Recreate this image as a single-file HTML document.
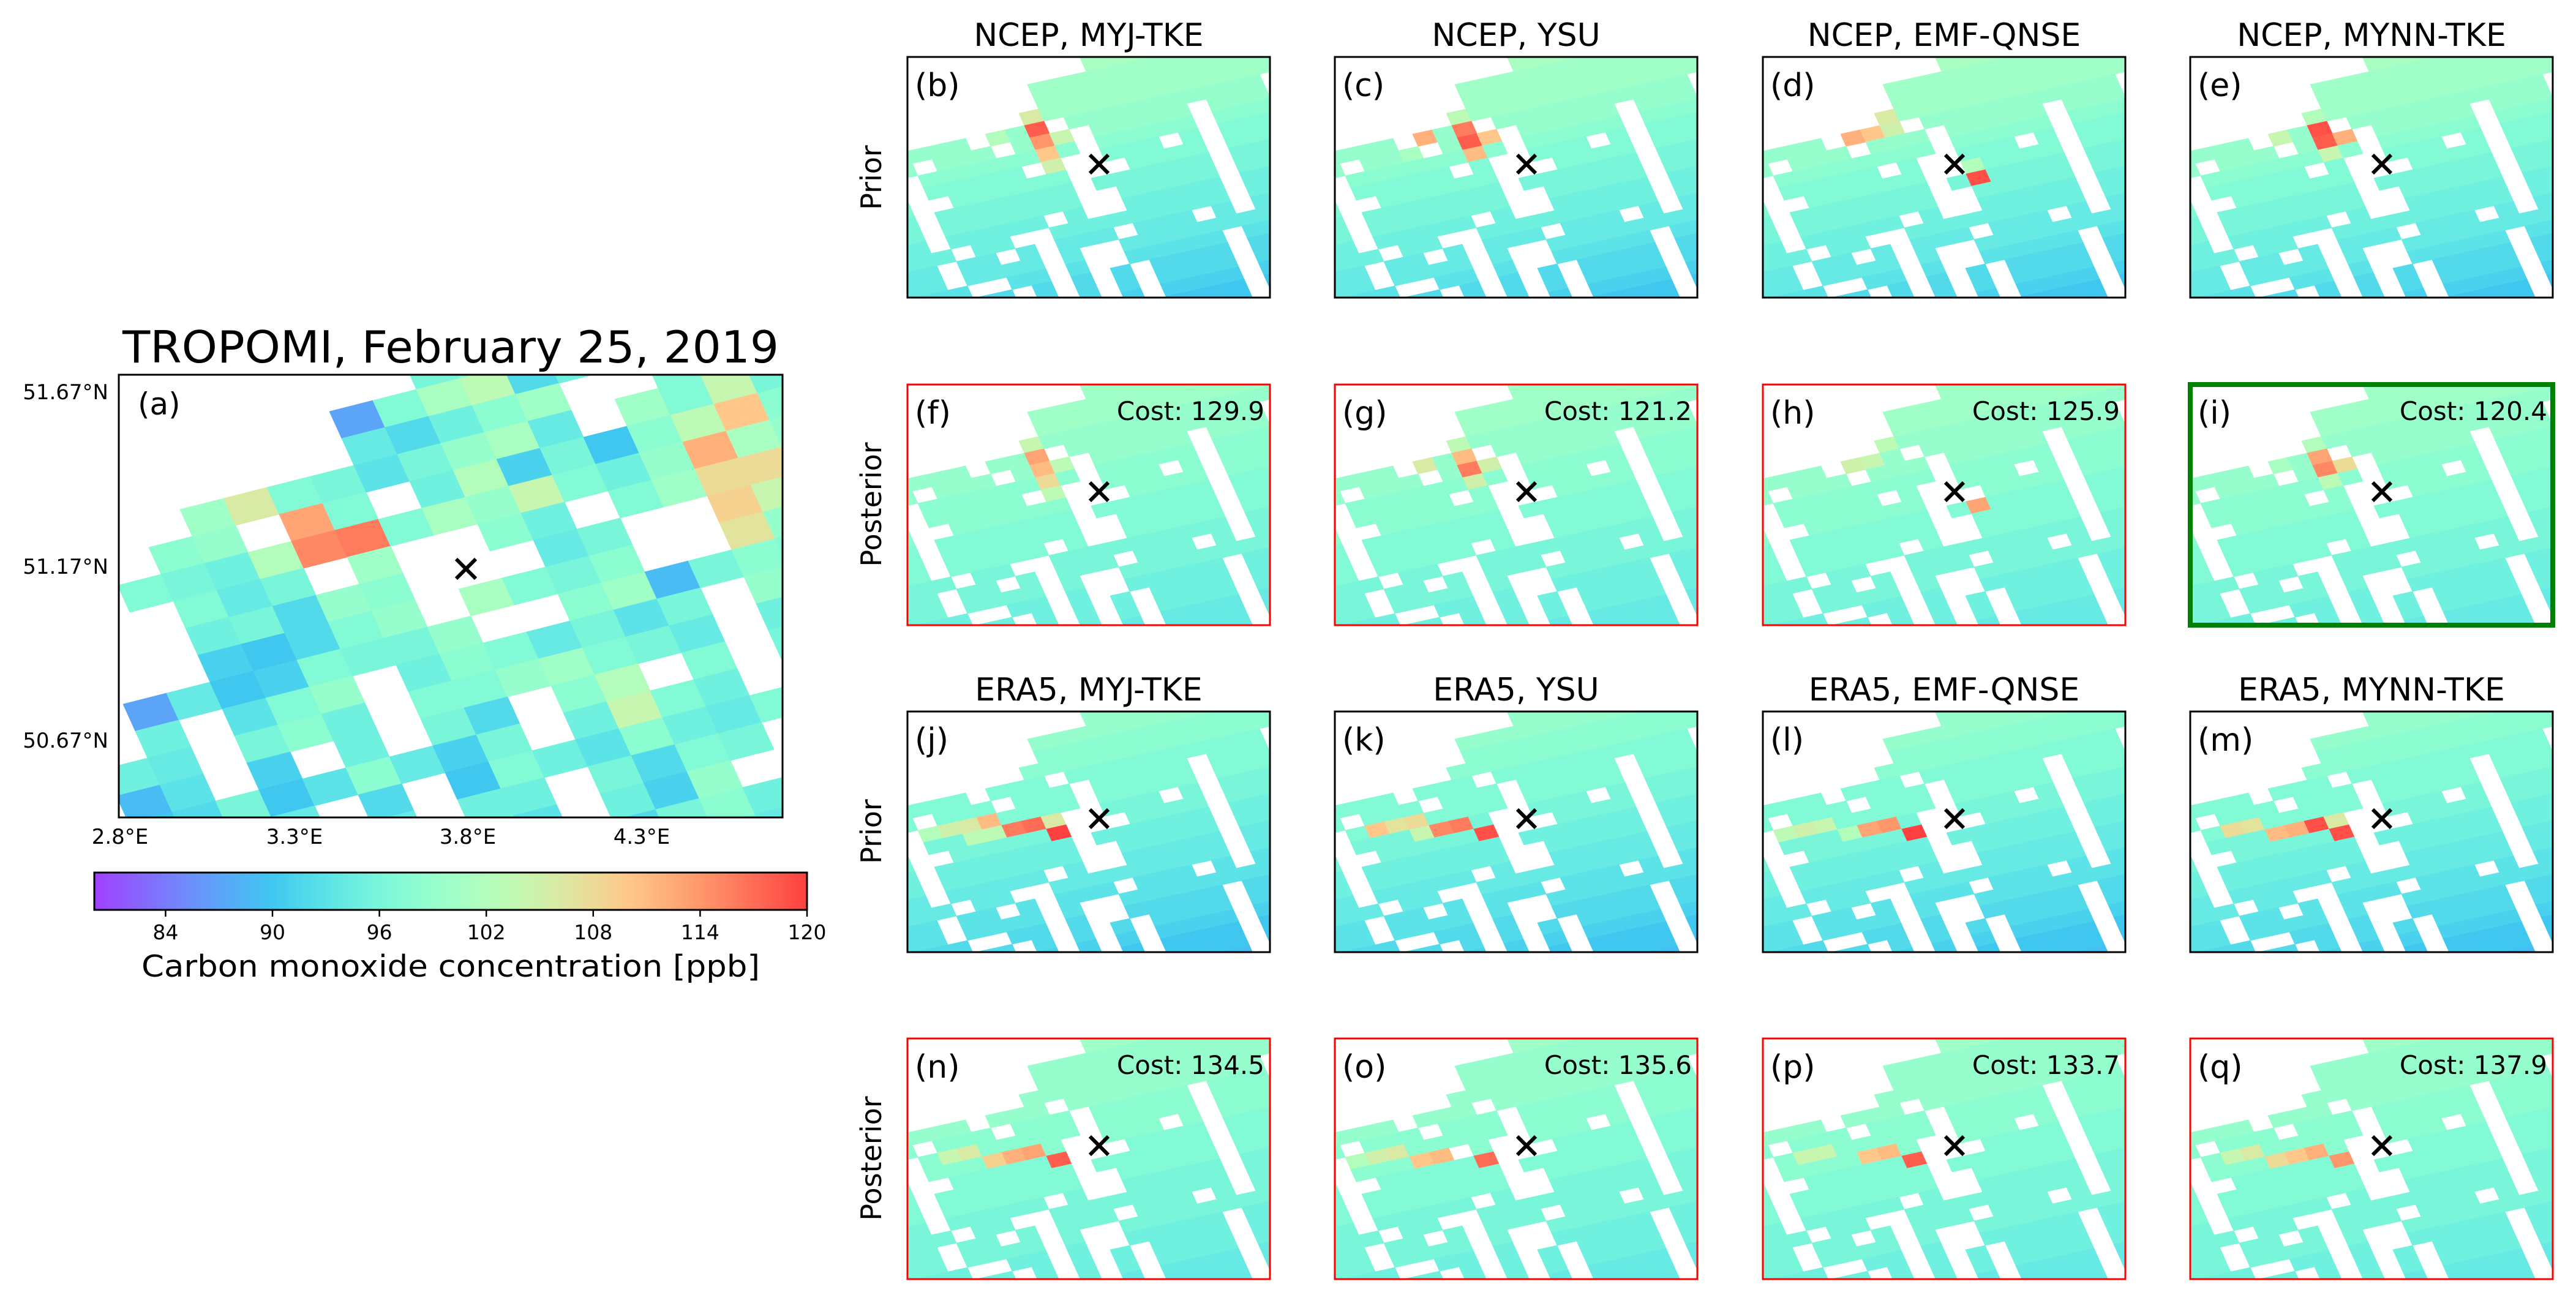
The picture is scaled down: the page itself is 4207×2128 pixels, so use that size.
<!DOCTYPE html>
<html>
<head>
<meta charset="utf-8">
<style>
html,body{margin:0;padding:0;background:#fff;width:4207px;height:2128px;overflow:hidden;}
svg{display:block;font-family:"DejaVu Sans","Liberation Sans",sans-serif;}
</style>
</head>
<body>
<svg id="fig" xmlns="http://www.w3.org/2000/svg" width="4207" height="2128" viewBox="0 0 4207 2128" overflow="hidden">
<defs id="defs"></defs>
<rect x="0" y="0" width="4207" height="2128" fill="#fff"/>
<g id="panelA"></g>
<g id="small"></g>
<g id="cbar"></g>

<text x="736" y="592" font-size="72" text-anchor="middle" textLength="1072" lengthAdjust="spacingAndGlyphs">TROPOMI, February 25, 2019</text>
<text x="225" y="677" font-size="50">(a)</text>
<text x="177" y="652" font-size="34" text-anchor="end">51.67°N</text>
<text x="177" y="937" font-size="34" text-anchor="end">51.17°N</text>
<text x="177" y="1221" font-size="34" text-anchor="end">50.67°N</text>
<text x="196" y="1378" font-size="34" text-anchor="middle">2.8°E</text>
<text x="481" y="1378" font-size="34" text-anchor="middle">3.3°E</text>
<text x="764" y="1378" font-size="34" text-anchor="middle">3.8°E</text>
<text x="1048" y="1378" font-size="34" text-anchor="middle">4.3°E</text>
<text x="736" y="1595" font-size="49" text-anchor="middle" textLength="1010" lengthAdjust="spacingAndGlyphs">Carbon monoxide concentration [ppb]</text>

<text x="1778" y="75" font-size="52" text-anchor="middle">NCEP, MYJ-TKE</text>
<text x="2476" y="75" font-size="52" text-anchor="middle">NCEP, YSU</text>
<text x="3175" y="75" font-size="52" text-anchor="middle">NCEP, EMF-QNSE</text>
<text x="3873" y="75" font-size="52" text-anchor="middle">NCEP, MYNN-TKE</text>
<text x="1778" y="1144" font-size="52" text-anchor="middle">ERA5, MYJ-TKE</text>
<text x="2476" y="1144" font-size="52" text-anchor="middle">ERA5, YSU</text>
<text x="3175" y="1144" font-size="52" text-anchor="middle">ERA5, EMF-QNSE</text>
<text x="3873" y="1144" font-size="52" text-anchor="middle">ERA5, MYNN-TKE</text>

<text transform="translate(1439,290) rotate(-90)" font-size="46" text-anchor="middle">Prior</text>
<text transform="translate(1439,824) rotate(-90)" font-size="46" text-anchor="middle">Posterior</text>
<text transform="translate(1439,1358) rotate(-90)" font-size="46" text-anchor="middle">Prior</text>
<text transform="translate(1439,1892) rotate(-90)" font-size="46" text-anchor="middle">Posterior</text>
</svg>

<script>
// ---------- data ----------
const cbarTicks = [84, 90, 96, 102, 108, 114, 120];
const vMin = 80;
const vMax = 120;

// Panel (a) TROPOMI grid: rows r=0..20, columns c=-5..14 (0 = no data)
const tropomiRows = [
[0,0,0,0,0,0,0,0,0,0,0,0,0,0,0,0,0,0,0,0],
[0,0,0,0,0,0,0,0,0,0,0,0,0,0,0,0,0,0,0,0],
[0,0,0,0,0,0,0,0,0,0,0,96,98,101,97,99,104,100,106,0],
[0,0,0,0,0,0,0,0,0,87,97,101,103,92,95,98,96,105,99,0],
[0,0,0,0,0,0,0,0,0,94,92,95,98,100,0,0,97,102,107,0],
[0,0,0,0,0,100,106,97,96,93,96,99,101,94,0,100,97,104,96,0],
[0,0,0,0,98,99,0,113,97,0,95,102,91,96,90,98,103,110,98,96],
[0,0,0,97,96,95,102,115,116,97,101,99,104,97,95,99,112,101,99,97],
[0,0,0,0,97,94,96,0,100,0,0,98,95,0,97,100,108,108,96,98],
[0,0,0,0,95,96,92,99,98,0,0,0,94,96,0,0,109,104,100,97],
[0,0,0,0,91,90,92,97,99,0,101,97,96,98,0,0,107,99,102,0],
[0,0,87,94,90,91,97,96,96,99,0,0,98,100,89,96,98,97,103,0],
[0,0,95,0,93,97,99,0,95,98,97,94,96,93,96,0,99,102,101,0],
[0,95,94,0,96,98,95,0,97,97,99,100,97,96,94,0,95,100,100,0],
[0,89,93,0,91,0,95,0,96,92,0,98,102,0,97,0,96,97,0,0],
[0,90,92,96,90,93,98,94,91,96,0,95,104,97,95,0,96,0,0,0],
[0,88,90,91,94,0,92,0,90,97,95,93,98,95,94,97,0,0,0,0],
[89,87,91,93,91,96,94,0,95,95,0,96,92,97,96,0,0,0,0,0],
[88,90,92,94,90,92,89,93,96,93,0,95,91,99,0,0,0,0,0,0],
[90,93,94,91,95,96,93,95,94,90,0,92,96,98,95,93,0,0,0,0],
[91,92,95,93,94,92,95,92,97,94,97,93,95,96,94,92,0,0,0,0]
];
const tropomiColStart = -5;

// Small panels: shared data mask, rows r=0..24, columns c=-6..16
const smallMask = [
"..............#########",
"..............#########",
"..............#########",
"..............#########",
"...........############",
"...........############",
"..........#############",
"#######.###.##########.",
"####.###.###.#####.###.",
"###.########.#####.###.",
"###.#####.#..###.#.###.",
"###..######...####.###.",
"###.#######.######.###.",
"###.#######..#####.##..",
"###.#####.#..#####.##..",
"####.##..#########.##..",
"###.##.#.###.###.#.##..",
"###.####.#..#########..",
"####..##.#..#####.##...",
"######.#.#.#.####.##...",
"########.#.#.####.##...",
"##########.#.####.##...",
"############.####.#....",
"############.####.#....",
"############.####.#...."
];
const smallColStart = -6;

// row-wise background concentration (ppb), r=0..24
const levelsNcepPrior = [101,101,101,101,100,100,100,99,99,98,97,97,96,96,95,95,94,94,93,92,92,91,90,90,89];
const levelsEra5Prior = [100,100,99,99,99,98,98,97,97,97,96,96,95,95,94,94,93,93,92,92,91,90,90,89,88];
const levelsNcepPost  = [101,101,100,100,100,100,99,99,99,98,98,98,97,97,97,96,96,96,95,95,95,94,94,94,93];
const levelsEra5Post  = [100,100,100,100,99,99,99,99,98,98,98,97,97,97,96,96,96,96,95,95,95,94,94,94,94];

// hot spots [c, r, ppb]
const hotB = [[4,6,106],[4,7,118],[4,8,114],[4,9,110],[4,10,105],[5,8,104],[2,7,102]];
const hotC = [[4,6,103],[4,7,116],[4,8,118],[4,9,111],[5,8,110],[2,7,112],[1,8,101]];
const hotD = [[2,7,112],[3,7,110],[4,6,106],[4,7,105],[7,12,119],[7,11,102]];
const hotE = [[4,6,102],[4,7,119],[4,8,118],[5,8,112],[4,9,104],[2,7,104]];
const hotF = [[4,6,104],[4,7,113],[4,8,111],[4,9,108],[4,10,103],[5,8,103]];
const hotG = [[4,6,103],[4,7,111],[4,8,116],[4,9,105],[5,8,105],[2,7,106]];
const hotH = [[2,7,105],[3,7,104],[4,6,103],[7,12,113]];
const hotI = [[4,6,102],[4,7,113],[4,8,115],[5,8,108],[4,9,103],[2,7,101]];
const hotJ = [[-2,9,102],[-1,9,105],[0,9,106],[1,9,111],[0,10,103],[1,10,103],[2,10,116],[3,10,117],[4,10,106],[4,11,120]];
const hotK = [[-1,9,110],[0,9,107],[1,9,108],[1,10,104],[2,10,115],[3,10,116],[4,11,119]];
const hotL = [[-2,9,103],[-1,9,105],[0,9,104],[1,10,102],[2,10,113],[3,10,114],[4,11,120]];
const hotM = [[-1,9,108],[0,9,107],[1,10,111],[2,10,112],[3,10,119],[4,11,119],[4,10,106]];
const hotN = [[-1,9,104],[0,9,106],[1,10,109],[2,10,112],[3,10,113],[4,11,118]];
const hotO = [[-2,9,102],[-1,9,105],[0,9,106],[1,10,110],[2,10,111],[4,11,117]];
const hotP = [[-1,9,104],[0,9,104],[2,10,110],[3,10,111],[4,11,118]];
const hotQ = [[-1,9,104],[0,9,106],[1,10,108],[2,10,110],[3,10,112],[4,11,114]];

const panelLetters = ["b","c","d","e","f","g","h","i","j","k","l","m","n","o","p","q"];
const costs = [null,null,null,null,129.9,121.2,125.9,120.4,null,null,null,null,134.5,135.6,133.7,137.9];
const bestPanel = "i";

// ---------- helpers ----------
const NS = "http://www.w3.org/2000/svg";
function cmap(v){
  let x = (v - vMin) / (vMax - vMin);
  x = Math.max(0, Math.min(1, x));
  let r = Math.min(1, Math.abs(2*x - 0.5));
  let g = Math.sin(Math.PI * x);
  let b = Math.cos(Math.PI * x / 2);
  const a = 0.75;
  const f = t => Math.round((a*Math.max(0,Math.min(1,t)) + (1-a)) * 255);
  return "rgb(" + f(r) + "," + f(g) + "," + f(b) + ")";
}
function mk(tag, attrs, parent){
  const e = document.createElementNS(NS, tag);
  for (const k in attrs) e.setAttribute(k, attrs[k]);
  parent.appendChild(e);
  return e;
}
function cellCorners(ox, oy, cv, rv, c, r){
  const p = (cc, rr) => [ox + cv[0]*cc + rv[0]*rr, oy + cv[1]*cc + rv[1]*rr];
  return [p(c,r), p(c+1,r), p(c+1,r+1), p(c,r+1)];
}
function overlaps(pts, bx, by, bw, bh){
  const xs = pts.map(q => q[0]), ys = pts.map(q => q[1]);
  return Math.max(...xs) > bx && Math.min(...xs) < bx + bw && Math.max(...ys) > by && Math.min(...ys) < by + bh;
}
function ptsStr(pts){
  return pts.map(q => q[0].toFixed(1)+","+q[1].toFixed(1)).join(" ");
}
function drawX(parent, cx, cy, s, w){
  const g = mk("g", {stroke:"#000", "stroke-width":w, "stroke-linecap":"butt"}, parent);
  
  
  mk("line", {x1:cx-s, y1:cy-s, x2:cx+s, y2:cy+s}, g);
  mk("line", {x1:cx-s, y1:cy+s, x2:cx+s, y2:cy-s}, g);
}
const defs = document.getElementById("defs");

// ---------- panel (a) ----------
(function(){
  const g = document.getElementById("panelA");
  const bx = 194, by = 612, bw = 1084, bh = 723;
  const cp = mk("clipPath", {id:"clipA"}, defs);
  mk("rect", {x:bx, y:by, width:bw, height:bh}, cp);
  const cells = mk("g", {"clip-path":"url(#clipA)"}, g);
  
  
  const cv = [71, -18], rv = [20, 44];
  tropomiRows.forEach((row, r) => {
    row.forEach((v, i) => {
      if (!v) return;
      const c = i + tropomiColStart;
      const pts = cellCorners(bx, by, cv, rv, c, r);
      if (!overlaps(pts, bx, by, bw, bh)) return;
      const col = cmap(v);
      const el = mk("polygon", {points: ptsStr(pts), fill: col, stroke: col, "stroke-width": 0.8}, cells);
      
      
    });
  });
  drawX(g, 761, 929, 16, 6);
  const fr = mk("rect", {x:bx, y:by, width:bw, height:bh, fill:"none", stroke:"#000", "stroke-width":3}, g);
  
  
})();

// ---------- small panels ----------
(function(){
  const root = document.getElementById("small");
  const xs = [1482, 2180, 2879, 3577];
  const ys = [93, 628, 1162, 1696];
  const bw = 592, bh = 393;
  const cv = [32, -7], rv = [9, 20];
  const levelSets = [levelsNcepPrior, levelsNcepPost, levelsEra5Prior, levelsEra5Post];
  const hots = [hotB,hotC,hotD,hotE,hotF,hotG,hotH,hotI,hotJ,hotK,hotL,hotM,hotN,hotO,hotP,hotQ];
  panelLetters.forEach((L, k) => {
    const row = Math.floor(k / 4), colI = k % 4;
    const bx = xs[colI], by = ys[row];
    const g = mk("g", {}, root);
    
    
    const cp = mk("clipPath", {id:"clip" + L}, defs);
    mk("rect", {x:bx, y:by, width:bw, height:bh}, cp);
    const cells = mk("g", {"clip-path":"url(#clip" + L + ")"}, g);
    const lev = levelSets[row];
    const hot = {};
    hots[k].forEach(h => { hot[h[0] + "," + h[1]] = h[2]; });
    smallMask.forEach((s, r) => {
      for (let i = 0; i < s.length; i++) {
        const c = i + smallColStart;
        const key = c + "," + r;
        if (s[i] !== "#" && !(key in hot)) continue;
        const pts = cellCorners(bx, by, cv, rv, c, r);
        if (!overlaps(pts, bx, by, bw, bh)) continue;
        const v = (key in hot) ? hot[key] : lev[r];
        const col = cmap(v);
        const el = mk("polygon", {points: ptsStr(pts), fill: col, stroke: col, "stroke-width": 0.8}, cells);
        
        
      }
    });
    drawX(g, bx + 313, by + 175, 15, 6);
    let stroke = "#000", sw = 3;
    if (costs[k] !== null) { stroke = (L === bestPanel) ? "#008000" : "#ff0000"; sw = (L === bestPanel) ? 8 : 3; }
    const fr = mk("rect", {x:bx, y:by, width:bw, height:bh, fill:"none", stroke:stroke, "stroke-width":sw}, g);
    
    
    const lt = mk("text", {x:bx + 12, y:by + 64, "font-size":52}, g);
    lt.textContent = "(" + L + ")";
    
    
    if (costs[k] !== null) {
      const ct = mk("text", {x:bx + bw - 9, y:by + 58, "font-size":42, "text-anchor":"end"}, g);
      ct.textContent = "Cost: " + costs[k].toFixed(1);
      
      
    }
  });
})();

// ---------- colorbar ----------
(function(){
  const g = document.getElementById("cbar");
  const x0 = 154, x1 = 1318, y0 = 1425, y1 = 1486;
  const grad = mk("linearGradient", {id:"cbGrad", x1:"0", y1:"0", x2:"1", y2:"0"}, defs);
  for (let i = 0; i <= 40; i++) {
    const v = vMin + (vMax - vMin) * i / 40;
    mk("stop", {offset: (i/40).toFixed(3), "stop-color": cmap(v)}, grad);
  }
  const bar = mk("rect", {x:x0, y:y0, width:x1-x0, height:y1-y0, fill:"url(#cbGrad)", stroke:"#000", "stroke-width":3}, g);
  
  
  const sx = v => x0 + (v - vMin) / (vMax - vMin) * (x1 - x0);
  cbarTicks.forEach(t => {
    const tk = mk("line", {x1:sx(t), y1:y1, x2:sx(t), y2:y1+11, stroke:"#000", "stroke-width":2.5}, g);
    
    
    const tl = mk("text", {x:sx(t), y:1534, "font-size":33, "text-anchor":"middle"}, g);
    tl.textContent = String(t);
    
    
  });
})();
</script>
</body>
</html>
